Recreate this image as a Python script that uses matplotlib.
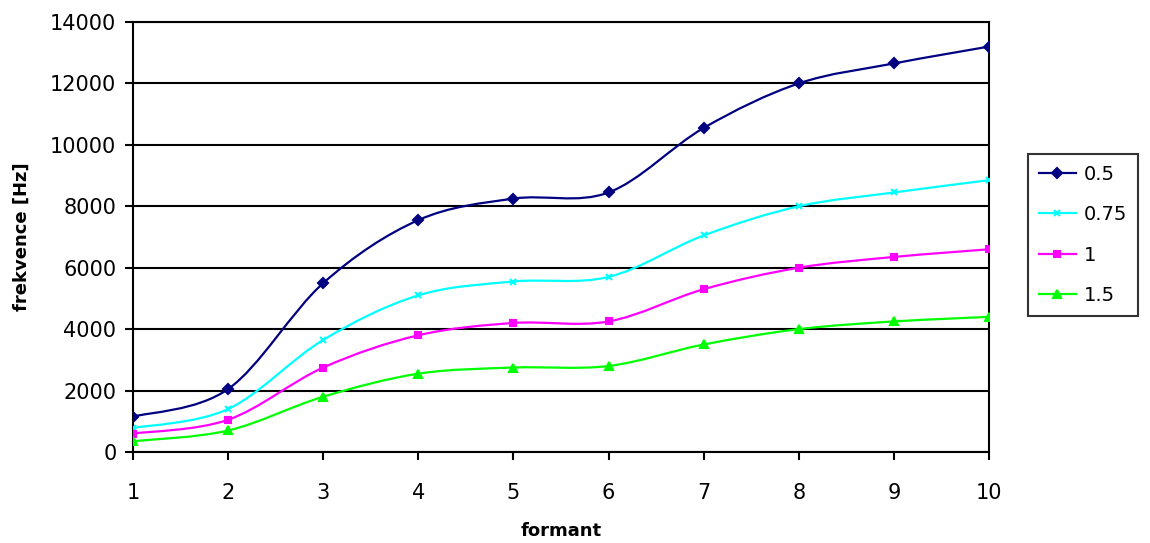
import matplotlib
matplotlib.use("Agg")
import matplotlib.pyplot as plt
from matplotlib.path import Path
from matplotlib.patches import PathPatch
from matplotlib.lines import Line2D

formant = [1, 2, 3, 4, 5, 6, 7, 8, 9, 10]
f_05 = [1150, 2050, 5500, 7550, 8250, 8450, 10550, 12000, 12650, 13200]
f_075 = [780, 1400, 3650, 5100, 5550, 5700, 7050, 8000, 8450, 8850]
f_1 = [600, 1050, 2750, 3800, 4200, 4250, 5300, 6000, 6350, 6600]
f_15 = [350, 700, 1800, 2550, 2750, 2800, 3500, 4000, 4250, 4400]
labels = ["0.5", "0.75", "1", "1.5"]
colors = ["#000080", "#00FFFF", "#FF00FF", "#00FF00"]
markers = ["D", "x", "s", "^"]
msizes = [5, 5, 5, 6]


def smooth_path(x, y):
    # Excel-like smoothed line: Catmull-Rom as cubic Bezier segments
    n = len(x)
    verts = [(x[0], y[0])]
    codes = [Path.MOVETO]
    for i in range(n - 1):
        x0, y0 = (x[i - 1], y[i - 1]) if i > 0 else (x[i], y[i])
        x1, y1 = x[i], y[i]
        x2, y2 = x[i + 1], y[i + 1]
        x3, y3 = (x[i + 2], y[i + 2]) if i + 2 < n else (x2, y2)
        c1 = (x1 + (x2 - x0) / 6, y1 + (y2 - y0) / 6)
        c2 = (x2 - (x3 - x1) / 6, y2 - (y3 - y1) / 6)
        verts += [c1, c2, (x2, y2)]
        codes += [Path.CURVE4] * 3
    return Path(verts, codes)


fig = plt.figure(figsize=(11.5, 5.43), dpi=100)
ax = fig.add_axes([0.1157, 0.1676, 0.7443, 0.7919])

series = [f_05, f_075, f_1, f_15]
handles = []
for vals, lab, c, m, ms in zip(series, labels, colors, markers, msizes):
    ax.add_patch(PathPatch(smooth_path(formant, vals), facecolor="none",
                           edgecolor=c, lw=1.6, zorder=3))
    ax.plot(formant, vals, linestyle="none", marker=m, color=c, ms=ms,
            mew=1.5, zorder=4)
    handles.append(Line2D([], [], color=c, lw=1.6, marker=m, ms=ms, mew=1.5))

ax.set_xlim(1, 10)
ax.set_ylim(0, 14000)
ax.set_xticks(formant)
ax.set_yticks(range(0, 14001, 2000))
ax.yaxis.grid(True, color="black", lw=1.5)
ax.set_axisbelow(True)
for s in ax.spines.values():
    s.set_color("black")
    s.set_linewidth(1.5)
ax.tick_params(axis="both", direction="out", length=6, width=1.5,
               labelsize=15, colors="black", pad=6)
ax.tick_params(axis="x", pad=16)
ax.set_xlabel("formant", fontsize=13, fontweight="bold", labelpad=14)
ax.set_ylabel("frekvence [Hz]", fontsize=13, fontweight="bold", labelpad=14)

leg = fig.legend(handles, labels, loc="upper left",
                 bbox_to_anchor=(0.894, 0.716), fontsize=14, frameon=True,
                 fancybox=False, edgecolor="black", handlelength=1.9,
                 handletextpad=0.4, labelspacing=1.1, borderpad=0.55,
                 borderaxespad=0)
leg.get_frame().set_linewidth(1.5)

fig.savefig("out.png", dpi=100, facecolor="white")
